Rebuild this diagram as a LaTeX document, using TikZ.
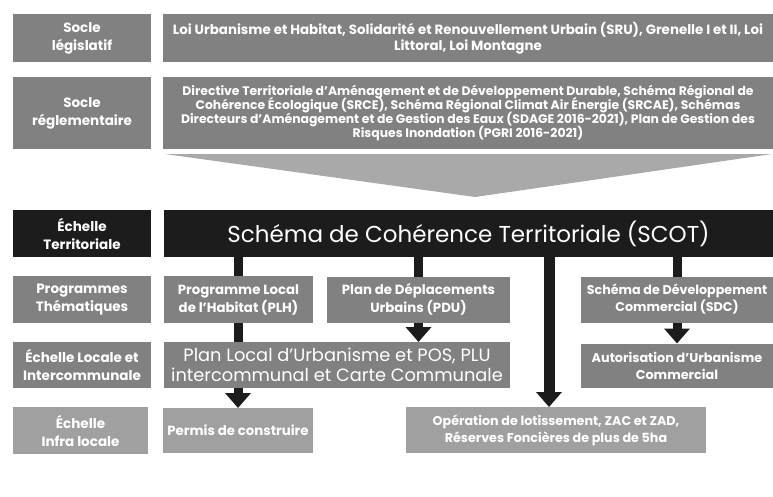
\documentclass[tikz,border=0pt]{standalone}
\usepackage{fontspec}
\setmainfont{Poppins}
\usetikzlibrary{arrows.meta,positioning}
\definecolor{boxgray}{HTML}{818181}
\definecolor{palegray}{HTML}{A0A0A0}
\definecolor{funnelgray}{HTML}{A9A9A9}
\definecolor{ink}{HTML}{1C1C1C}
\newcommand{\tightlines}{\lineskiplimit=-8pt\relax}

\begin{document}
\begin{tikzpicture}[x=1pt,y=-1pt,
	box/.style={fill=boxgray,text=white,align=center,inner sep=1pt,outer sep=0pt,font=\bfseries\fontsize{13.3}{18}\selectfont},
	lab/.style={box,anchor=north west,minimum width=138pt,font=\bfseries\fontsize{13.5}{18}\selectfont},
	pale/.style={fill=palegray},
	dark/.style={fill=ink},
	bar/.style={draw=ink,line width=9pt},
	arr/.style={bar,-{Triangle[width=25pt,length=15pt]}},
]
	\useasboundingbox (0,0) rectangle (773,496);

	\node[lab,minimum height=48pt] (a1) at (13,14) {Socle\\législatif};
	\node[lab,minimum height=72pt] (a2) at (13,77) {Socle\\réglementaire};
	\node[lab,dark,minimum height=47pt] (a3) at (13,210) {Échelle\\Territoriale};
	\node[lab,minimum height=47pt] (a4) at (13,276) {Programmes\\Thématiques};
	\node[lab,minimum height=46pt] (a5) at (13,342) {Échelle Locale et\\Intercommunale};
	\node[lab,pale,minimum height=47pt,minimum width=135pt] (a6) at (13,407) {Échelle\\Infra locale};

	\node[box,right=12pt of a1,minimum width=610pt,minimum height=48pt,font=\bfseries\fontsize{13.4}{16}\selectfont] (b1)
		{Loi Urbanisme et Habitat, Solidarité et Renouvellement Urbain (SRU), Grenelle I et II, Loi\\Littoral, Loi Montagne};
	\node[box,right=12pt of a2,minimum width=610pt,minimum height=72pt,font=\bfseries\fontsize{12.4}{14.3}\selectfont\tightlines] (b2)
		{Directive Territoriale d'Aménagement et de Développement Durable, Schéma Régional de\\
		Cohérence Écologique (SRCE), Schéma Régional Climat Air Énergie (SRCAE), Schémas\\
		Directeurs d'Aménagement et de Gestion des Eaux (SDAGE 2016-2021), Plan de Gestion des\\
		Risques Inondation (PGRI 2016-2021)};
	\fill[funnelgray] (165,154) -- (772,154) -- (475,197) -- cycle;

	\node[box,dark,right=13pt of a3,minimum width=609pt,minimum height=47pt,font=\mdseries\fontsize{23}{25}\selectfont] (b3)
		{Schéma de Cohérence Territoriale (SCOT)};

	\node[box,right=13pt of a4,minimum width=149pt,minimum height=47pt] (c4)
		{Programme Local\\de l'Habitat (PLH)};
	\node[box,right=14pt of c4,minimum width=183pt,minimum height=46pt] (d4)
		{Plan de Déplacements\\Urbains (PDU)};
	\node[box,right=71pt of d4,minimum width=192pt,minimum height=46pt,font=\bfseries\fontsize{12.7}{17}\selectfont] (e4)
		{Schéma de Développement\\Commercial (SDC)};

	\node[box,right=13pt of a5,minimum width=346pt,minimum height=46pt,font=\mdseries\fontsize{17.8}{20}\selectfont] (c5)
		{Plan Local d'Urbanisme et POS, PLU\\intercommunal et Carte Communale};
	\node[box,below=21pt of e4,minimum width=192pt,minimum height=44pt,font=\bfseries\fontsize{12.8}{17}\selectfont] (e5)
		{Autorisation d'Urbanisme\\Commercial};

	\node[box,pale,right=15pt of a6,minimum width=150pt,minimum height=45pt] (c6)
		{Permis de construire};
	\node[box,pale,anchor=north west,minimum width=300pt,minimum height=46pt,font=\bfseries\fontsize{12.7}{17}\selectfont] (f6) at (406,407)
		{Opération de lotissement, ZAC et ZAD,\\Réserves Foncières de plus de 5ha};

	\draw[bar] (b3.south -| c4.north) -- (c4.north);
	\draw[bar] (b3.south -| d4.north) -- (d4.north);
	\draw[bar] (b3.south -| e4.north) -- (e4.north);
	\draw[arr,line width=11pt] ([xshift=-7pt]b3.south -| f6.north) -- ([xshift=-7pt]f6.north);
	\draw[bar] (c4.south) -- (c5.north -| c4.south);
	\draw[arr] (d4.south) -- (c5.north -| d4.south);
	\draw[arr] (e4.south) -- (e5.north);
	\draw[arr] (c5.south -| c6.north) -- (c6.north);
\end{tikzpicture}
\end{document}
